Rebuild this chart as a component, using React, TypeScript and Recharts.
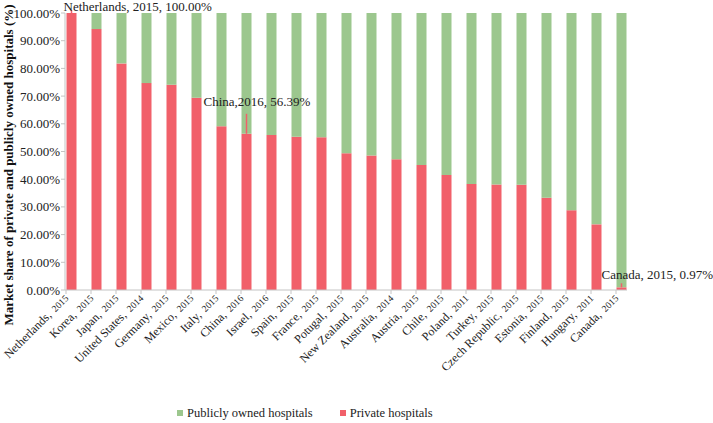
import { Bar, BarChart, LabelList, Legend, XAxis, YAxis } from "recharts";

const countries = [
  "Netherlands", "Korea", "Japan", "United States", "Germany", "Mexico", "Italy", "China",
  "Israel", "Spain", "France", "Potugal", "New Zealand", "Australia", "Austria", "Chile",
  "Poland", "Turkey", "Czech Republic", "Estonia", "Finland", "Hungary", "Canada",
];
const years = [
  "2015", "2015", "2015", "2014", "2015", "2015", "2015", "2016",
  "2016", "2015", "2015", "2015", "2015", "2014", "2015", "2015",
  "2011", "2015", "2015", "2015", "2015", "2011", "2015",
];
const privateShare = [
  100, 94.2, 81.8, 74.7, 74.1, 69.4, 59.1, 56.39,
  56.0, 55.3, 55.1, 49.4, 48.6, 47.2, 45.1, 41.5,
  38.3, 38.1, 38.0, 33.3, 28.8, 23.7, 0.97,
];
const yTicks = [0, 10, 20, 30, 40, 50, 60, 70, 80, 90, 100];

// callouts on the private series (index into the category list)
const callouts = [
  { index: 0, text: "Netherlands, 2015, 100.00%" },
  { index: 7, text: "China,2016, 56.39%" },
  { index: 22, text: "Canada, 2015, 0.97%" },
];
// where each callout sits relative to its bar top
const calloutPlacement: Record<number, { dx: number; dy: number; leader: number }> = {
  0: { dx: -8, dy: -2, leader: 3 },
  7: { dx: -43, dy: -28, leader: 20 },
  22: { dx: -20, dy: -8, leader: 4 },
};

const data = countries.map((name, i) => ({
  name,
  year: years[i],
  private: privateShare[i],
  public: +(100 - privateShare[i]).toFixed(2),
}));

const RED = "#F1606A";
const GREEN = "#9CC78E";
const AXIS = "#c4c4c4";
const FONT = "Liberation Serif, DejaVu Serif, serif";
const BAR = 10;

function CountryTick({ x, y, payload, index }: any) {
  const left = x - BAR / 2;
  return (
    <g transform={`translate(${left},${y})`}>
      <line x1={0} y1={0} x2={0} y2={4} stroke={AXIS} />
      <text
        x={3}
        y={9}
        textAnchor="end"
        transform="rotate(-45 3 9)"
        fill="#222"
        style={{ fontFamily: FONT }}
      >
        <tspan fontSize={12}>{payload.value},</tspan>
        <tspan fontSize={9.5} dx={5}>{years[index]}</tspan>
      </text>
    </g>
  );
}

function PercentTick({ x, y, payload }: any) {
  return (
    <text x={x} y={y} dy={4.5} textAnchor="end" fontSize={13} fill="#222" style={{ fontFamily: FONT }}>
      {`${Number(payload.value).toFixed(2)}%`}
    </text>
  );
}

function Callout(props: any) {
  const { x, y, width, index } = props;
  const c = callouts.find((d) => d.index === index);
  if (!c) return null;
  const p = calloutPlacement[index];
  const cx = x + width / 2;
  return (
    <g>
      <line x1={cx} y1={y} x2={cx} y2={y - p.leader} stroke={RED} strokeWidth={1.5} />
      <text x={cx + p.dx} y={y + p.dy} fontSize={13} fill="#222" style={{ fontFamily: FONT }}>
        {c.text}
      </text>
    </g>
  );
}

function YTitle() {
  return (
    <text
      x={13}
      y={165}
      transform="rotate(-90 13 165)"
      textAnchor="middle"
      fontSize={13}
      fontWeight={700}
      fill="#111"
      style={{ fontFamily: FONT }}
    >
      Market share of private and publicly owned hospitals (%)
    </text>
  );
}

function LegendBox() {
  const item = (color: string, label: string) => (
    <span style={{ display: "inline-flex", alignItems: "center", marginRight: 27 }}>
      <span style={{ width: 6, height: 6, background: color, marginRight: 4 }} />
      {label}
    </span>
  );
  return (
    <div style={{ fontFamily: FONT, fontSize: 12.5, color: "#222", whiteSpace: "nowrap" }}>
      {item(GREEN, "Publicly owned hospitals")}
      {item(RED, "Private hospitals")}
    </div>
  );
}

export default function App() {
  return (
    <div style={{ position: "absolute", left: 0, top: 0, width: 713, height: 423, background: "#fff", fontFamily: FONT }}>
      <BarChart
        width={713}
        height={423}
        data={data}
        margin={{ top: 13, right: 86, left: 0, bottom: 0 }}
        style={{ fontFamily: FONT }}
      >
        <XAxis
          dataKey="name"
          height={115}
          interval={0}
          padding={{ left: -6.5, right: -6.5 }}
          axisLine={{ stroke: AXIS }}
          tickLine={false}
          tickSize={0}
          tickMargin={0}
          tick={<CountryTick />}
        />
        <YAxis
          width={65}
          domain={[0, 100]}
          ticks={yTicks}
          interval={0}
          axisLine={{ stroke: AXIS }}
          tickLine={{ stroke: AXIS }}
          tickSize={4}
          tickMargin={1}
          tick={<PercentTick />}
          label={{ content: () => <YTitle /> }}
        />
        <Legend
          content={<LegendBox />}
          wrapperStyle={{ position: "absolute", left: 177, top: 405, width: 320, height: 18 }}
        />
        <Bar dataKey="private" name="Private hospitals" stackId="a" fill={RED} barSize={BAR} isAnimationActive={false}>
          <LabelList dataKey="private" content={<Callout />} />
        </Bar>
        <Bar dataKey="public" name="Publicly owned hospitals" stackId="a" fill={GREEN} barSize={BAR} isAnimationActive={false} />
      </BarChart>
    </div>
  );
}
